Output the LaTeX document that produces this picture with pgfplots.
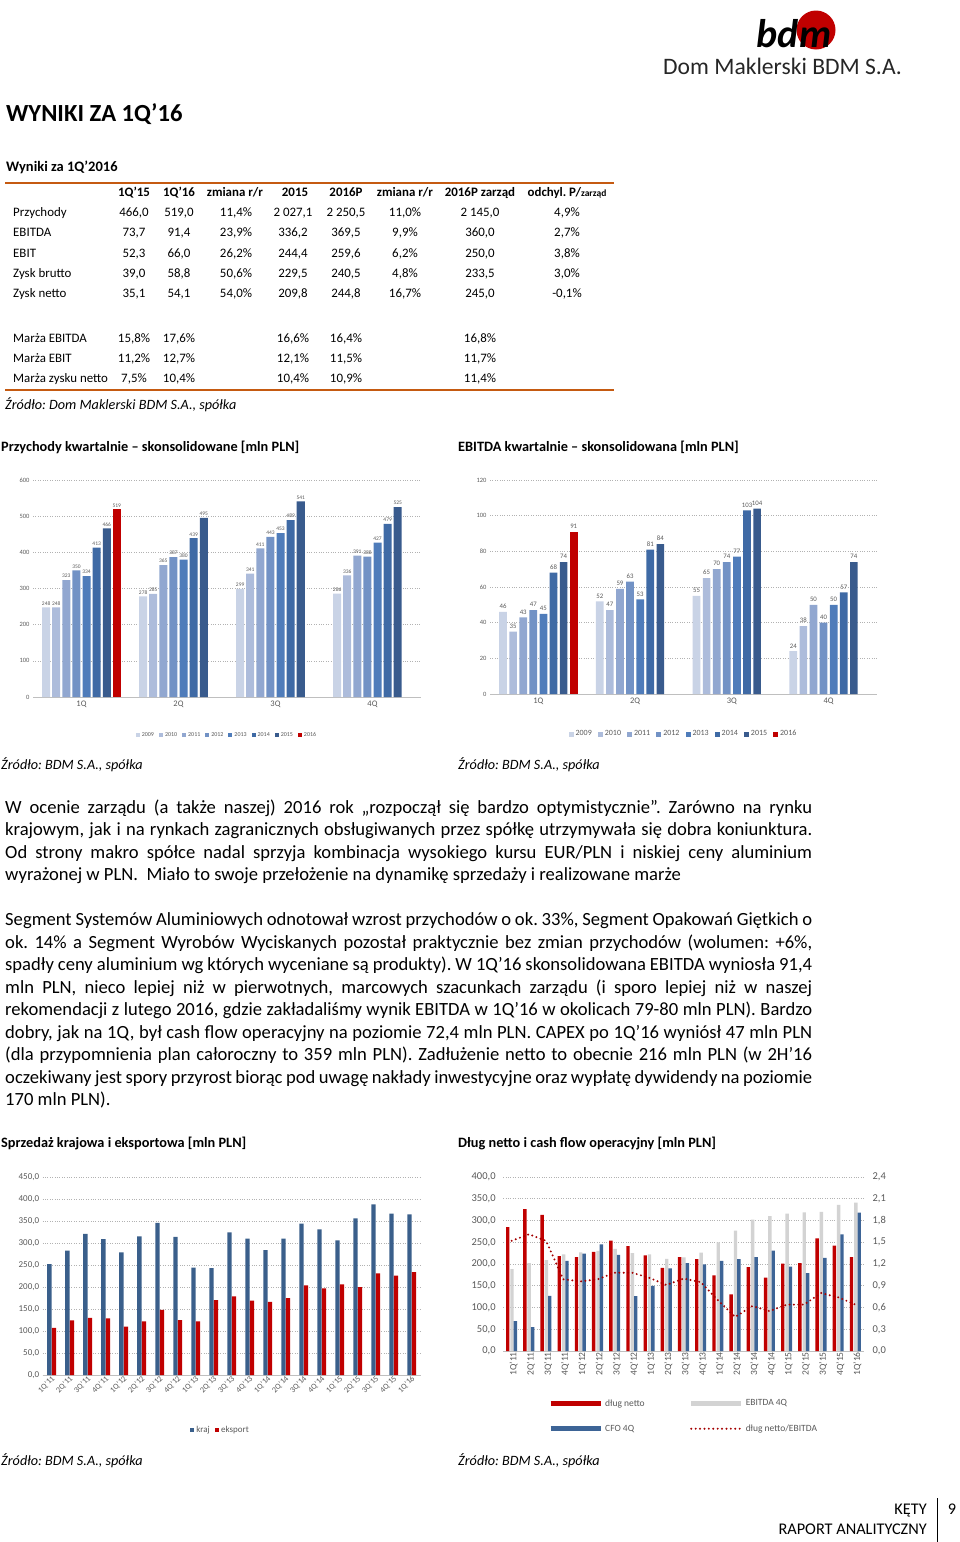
\documentclass[border=0pt]{standalone}
\usepackage{fontspec}
\setmainfont{Carlito}
\usepackage{pgfplots}
\usepackage{pgfplotstable}
\pgfplotsset{compat=1.18}
\pgfkeys{/pgf/number format/assume math mode=true}
\frenchspacing

\definecolor{cA}{HTML}{C9D3E6}
\definecolor{cB}{HTML}{ADBCDB}
\definecolor{cC}{HTML}{91A7D0}
\definecolor{cD}{HTML}{7292C5}
\definecolor{cE}{HTML}{4F7CBA}
\definecolor{cF}{HTML}{3F6AA5}
\definecolor{cG}{HTML}{395B8D}
\definecolor{bred}{HTML}{C00000}
\definecolor{kblue}{HTML}{3A5F8B}
\definecolor{cfob}{HTML}{3D6496}
\definecolor{ebg}{HTML}{D3D3D3}
\definecolor{tgray}{HTML}{595959}
\definecolor{orng}{HTML}{C55A11}

\newcommand\fs[1]{\fontsize{#1}{#1}\selectfont}

\pgfplotsset{
 bdm/.style={scale only axis, anchor=south west,
   axis x line*=bottom, axis y line*=left, axis line style={-},
   y axis line style={draw=none},
   x axis line style={draw=black!25, line width=0.8pt},
   major tick length=0pt, ymajorgrids,
   major grid style={draw=black!30, line width=0.6pt, dash pattern=on 0.8pt off 1.6pt},
   tick label style={text=tgray}, clip=false,
   legend style={draw=none, fill=none, text=tgray}},
}

\pgfplotstableread{
x kraj eksport
0 252 107
1 283 124
2 321 130
3 309 129
4 279 110
5 315 122
6 346 148
7 314 125
8 244 122
9 243 170
10 324 179
11 310 169
12 284 166
13 310 175
14 344 204
15 331 197
16 306 206
17 356 200
18 388 231
19 367 226
20 365 234
}\sales

\pgfplotstableread{
x dn eb cfo r
0 285 188 69 1.52
1 326 202 55 1.61
2 313 209 127 1.52
3 218 222 207 0.99
4 216 227 224 0.96
5 228 230 245 0.99
6 254 235 221 1.08
7 241 225 126 1.08
8 220 222 150 1.01
9 191 212 190 0.91
10 216 215 202 1.00
11 211 226 199 0.95
12 174 250 207 0.70
13 130 277 211 0.47
14 193 302 216 0.62
15 169 310 231 0.55
16 201 316 194 0.64
17 202 319 179 0.64
18 259 320 214 0.80
19 242 336 268 0.74
20 216 341 318 0.64
}\debt

\begin{document}
\begin{tikzpicture}
\useasboundingbox (0pt,0pt) rectangle (960pt,-1542pt);

% logo
\fill[bred] (816pt,-30pt) circle (19.5pt);
\node[anchor=base east, inner sep=0pt, font=\fs{40}\bfseries\itshape] at (799pt,-47pt) {bd};
\node[anchor=base, inner sep=0pt, font=\fs{40}\bfseries\itshape] at (816pt,-47pt) {m};
\node[anchor=mid west, inner sep=0pt, font=\fs{23.6}, text=black!85] at (663pt,-72pt) {Dom Maklerski BDM S.A.};

% titles
\node[anchor=mid west, inner sep=0pt, font=\fs{24.6}\bfseries] at (6pt,-119pt) {WYNIKI ZA 1Q’16};
\node[anchor=mid west, inner sep=0pt, font=\fs{14.5}\bfseries] at (6pt,-169pt) {Wyniki za 1Q’2016};

% table
\draw[orng, line width=2pt] (5pt,-183pt) -- (614pt,-183pt);
\draw[orng, line width=2pt] (5pt,-390pt) -- (614pt,-390pt);
\begin{scope}[every node/.style={inner sep=0pt, font=\fs{12.9}}]
\node[anchor=mid, font=\fs{12.9}\bfseries] at (134pt,-194pt) {1Q'15};
\node[anchor=mid, font=\fs{12.9}\bfseries] at (179pt,-194pt) {1Q'16};
\node[anchor=mid, font=\fs{12.9}\bfseries] at (235pt,-194pt) {zmiana r/r};
\node[anchor=mid, font=\fs{12.9}\bfseries] at (295pt,-194pt) {2015};
\node[anchor=mid, font=\fs{12.9}\bfseries] at (346pt,-194pt) {2016P};
\node[anchor=mid, font=\fs{12.9}\bfseries] at (405pt,-194pt) {zmiana r/r};
\node[anchor=mid, font=\fs{12.9}\bfseries] at (480pt,-194pt) {2016P zarząd};
\node[anchor=mid, font=\fs{12.9}\bfseries] at (567pt,-194pt) {odchyl. P/{\fs{9.5}zarząd}};
\foreach \y/\lab/\a/\b/\c/\d/\e/\f/\g/\h in {
 214/Przychody/{466,0}/{519,0}/{11,4\%}/{2 027,1}/{2 250,5}/{11,0\%}/{2 145,0}/{4,9\%},
 234/EBITDA/{73,7}/{91,4}/{23,9\%}/{336,2}/{369,5}/{9,9\%}/{360,0}/{2,7\%},
 255/EBIT/{52,3}/{66,0}/{26,2\%}/{244,4}/{259,6}/{6,2\%}/{250,0}/{3,8\%},
 275/Zysk brutto/{39,0}/{58,8}/{50,6\%}/{229,5}/{240,5}/{4,8\%}/{233,5}/{3,0\%},
 295/Zysk netto/{35,1}/{54,1}/{54,0\%}/{209,8}/{244,8}/{16,7\%}/{245,0}/{-0,1\%},
 340/Marża EBITDA/{15,8\%}/{17,6\%}/{}/{16,6\%}/{16,4\%}/{}/{16,8\%}/{},
 360/Marża EBIT/{11,2\%}/{12,7\%}/{}/{12,1\%}/{11,5\%}/{}/{11,7\%}/{},
 380/Marża zysku netto/{7,5\%}/{10,4\%}/{}/{10,4\%}/{10,9\%}/{}/{11,4\%}/{}}{
 \node[anchor=mid west] at (13pt,-\y*1pt) {\lab};
 \node[anchor=mid] at (134pt,-\y*1pt) {\a};
 \node[anchor=mid] at (179pt,-\y*1pt) {\b};
 \node[anchor=mid] at (236pt,-\y*1pt) {\c};
 \node[anchor=mid] at (293pt,-\y*1pt) {\d};
 \node[anchor=mid] at (346pt,-\y*1pt) {\e};
 \node[anchor=mid] at (405pt,-\y*1pt) {\f};
 \node[anchor=mid] at (480pt,-\y*1pt) {\g};
 \node[anchor=mid] at (567pt,-\y*1pt) {\h};
}
\end{scope}
\node[anchor=mid west, inner sep=0pt, font=\fs{14.2}\itshape] at (5pt,-407pt) {Źródło: Dom Maklerski BDM S.A., spółka};

% chart titles
\node[anchor=mid west, inner sep=0pt, font=\fs{14.3}\bfseries] at (1pt,-449pt) {Przychody kwartalnie – skonsolidowane [mln PLN]};
\node[anchor=mid west, inner sep=0pt, font=\fs{14.3}\bfseries] at (458pt,-449pt) {EBITDA kwartalnie – skonsolidowana [mln PLN]};

% Chart 1
\begin{axis}[bdm, ybar=0pt, at={(33pt,-697pt)}, width=388pt, height=217pt,
  xmin=-0.5, xmax=3.5, ymin=0, ymax=600, ytick={0,100,...,600},
  xtick={0,1,2,3}, xticklabels={1Q,2Q,3Q,4Q},
  yticklabel style={font=\fs{6.5}}, xticklabel style={font=\fs{8.5}},
  bar width=8pt, every axis plot/.append style={draw=none},
  nodes near coords, every node near coord/.append style={font=\fs{5.5}, text=tgray, inner sep=2pt},
  legend style={at={(0.5,-0.175)}, anchor=center, font=\fs{6},
    /tikz/every even column/.append style={column sep=3pt}},
  legend columns=-1,
  legend image code/.code={\fill[#1] (0pt,-2pt) rectangle (4pt,2pt);}]
\addplot[fill=cA, bar shift=-35.35pt] coordinates {(0,248) (1,278) (2,299) (3,286)};
\addplot[fill=cB, bar shift=-25.25pt] coordinates {(0,248) (1,285) (2,341) (3,336)};
\addplot[fill=cC, bar shift=-15.15pt] coordinates {(0,323) (1,365) (2,411) (3,391)};
\addplot[fill=cD, bar shift=-5.05pt] coordinates {(0,350) (1,387) (2,443) (3,388)};
\addplot[fill=cE, bar shift=5.05pt] coordinates {(0,334) (1,380) (2,453) (3,427)};
\addplot[fill=cF, bar shift=15.15pt] coordinates {(0,413) (1,439) (2,489) (3,479)};
\addplot[fill=cG, bar shift=25.25pt] coordinates {(0,466) (1,495) (2,541) (3,525)};
\addplot[fill=bred, bar shift=35.35pt] coordinates {(0,519)};
\legend{2009,2010,2011,2012,2013,2014,2015,2016}
\end{axis}

% Chart 2
\begin{axis}[bdm, ybar=0pt, at={(490pt,-694pt)}, width=387pt, height=214pt,
  xmin=-0.5, xmax=3.5, ymin=0, ymax=120, ytick={0,20,...,120},
  xtick={0,1,2,3}, xticklabels={1Q,2Q,3Q,4Q},
  yticklabel style={font=\fs{6.5}}, xticklabel style={font=\fs{8.5}},
  bar width=7.7pt, every axis plot/.append style={draw=none},
  nodes near coords, every node near coord/.append style={font=\fs{6.8}, text=tgray, inner sep=3pt},
  legend style={at={(0.5,-0.187)}, anchor=center, font=\fs{8},
    /tikz/every even column/.append style={column sep=4pt}},
  legend columns=-1,
  legend image code/.code={\fill[#1] (0pt,-2.5pt) rectangle (5pt,2.5pt);}]
\addplot[fill=cA, bar shift=-35.35pt] coordinates {(0,46) (1,52) (2,55) (3,24)};
\addplot[fill=cB, bar shift=-25.25pt] coordinates {(0,35) (1,47) (2,65) (3,38)};
\addplot[fill=cC, bar shift=-15.15pt] coordinates {(0,43) (1,59) (2,70) (3,50)};
\addplot[fill=cD, bar shift=-5.05pt] coordinates {(0,47) (1,63) (2,74) (3,40)};
\addplot[fill=cE, bar shift=5.05pt] coordinates {(0,45) (1,53) (2,77) (3,50)};
\addplot[fill=cF, bar shift=15.15pt] coordinates {(0,68) (1,81) (2,103) (3,57)};
\addplot[fill=cG, bar shift=25.25pt] coordinates {(0,74) (1,84) (2,104) (3,74)};
\addplot[fill=bred, bar shift=35.35pt] coordinates {(0,91)};
\legend{2009,2010,2011,2012,2013,2014,2015,2016}
\end{axis}

\node[anchor=mid west, inner sep=0pt, font=\fs{14.2}\itshape] at (1pt,-767pt) {Źródło: BDM S.A., spółka};
\node[anchor=mid west, inner sep=0pt, font=\fs{14.2}\itshape] at (458pt,-767pt) {Źródło: BDM S.A., spółka};

% paragraphs
\begin{scope}[every node/.style={anchor=mid west, inner sep=0pt, font=\fs{18.6}}]
\node at (5pt,-811pt) {\makebox[807pt][s]{W ocenie zarządu (a także naszej) 2016 rok „rozpoczął się bardzo optymistycznie”. Zarówno na rynku}};
\node at (5pt,-833pt) {\makebox[807pt][s]{krajowym, jak i na rynkach zagranicznych obsługiwanych przez spółkę utrzymywała się dobra koniunktura.}};
\node at (5pt,-856pt) {\makebox[807pt][s]{Od strony makro spółce nadal sprzyja kombinacja wysokiego kursu EUR/PLN i niskiej ceny aluminium}};
\node at (5pt,-878pt) {wyrażonej w PLN.\ \ Miało to swoje przełożenie na dynamikę sprzedaży i realizowane marże};
\node at (5pt,-923pt) {\makebox[807pt][s]{Segment Systemów Aluminiowych odnotował wzrost przychodów o ok. 33\%, Segment Opakowań Giętkich o}};
\node at (5pt,-946pt) {\makebox[807pt][s]{ok. 14\% a Segment Wyrobów Wyciskanych pozostał praktycznie bez zmian przychodów (wolumen: +6\%,}};
\node at (5pt,-968pt) {\makebox[807pt][s]{spadły ceny aluminium wg których wyceniane są produkty). W 1Q’16 skonsolidowana EBITDA wyniosła 91,4}};
\node at (5pt,-991pt) {\makebox[807pt][s]{mln PLN, nieco lepiej niż w pierwotnych, marcowych szacunkach zarządu (i sporo lepiej niż w naszej}};
\node at (5pt,-1013pt) {\makebox[807pt][s]{rekomendacji z lutego 2016, gdzie zakładaliśmy wynik EBITDA w 1Q’16 w okolicach 79-80 mln PLN). Bardzo}};
\node at (5pt,-1036pt) {\makebox[807pt][s]{dobry, jak na 1Q, był cash flow operacyjny na poziomie 72,4 mln PLN. CAPEX po 1Q’16 wyniósł 47 mln PLN}};
\node at (5pt,-1058pt) {\makebox[807pt][s]{(dla przypomnienia plan całoroczny to 359 mln PLN). Zadłużenie netto to obecnie 216 mln PLN (w 2H’16}};
\node at (5pt,-1081pt) {\makebox[807pt][s]{oczekiwany jest spory przyrost biorąc pod uwagę nakłady inwestycyjne oraz wypłatę dywidendy na poziomie}};
\node at (5pt,-1103pt) {170 mln PLN).};
\end{scope}

\node[anchor=mid west, inner sep=0pt, font=\fs{14.3}\bfseries] at (1pt,-1145pt) {Sprzedaż krajowa i eksportowa [mln PLN]};
\node[anchor=mid west, inner sep=0pt, font=\fs{14.3}\bfseries] at (458pt,-1145pt) {Dług netto i cash flow operacyjny [mln PLN]};

% Chart 3
\begin{axis}[bdm, ybar=0pt, at={(42.7pt,-1375pt)}, width=378pt, height=198pt,
  xmin=-0.5, xmax=20.5, ymin=0, ymax=450, ytick={0,50,...,450},
  yticklabel style={font=\fs{9}, /pgf/number format/.cd, fixed, fixed zerofill, precision=1, use comma, 1000 sep={}},
  xtick={0,...,20},
  xticklabels={1Q'11,2Q'11,3Q'11,4Q'11,1Q'12,2Q'12,3Q'12,4Q'12,1Q'13,2Q'13,3Q'13,4Q'13,1Q'14,2Q'14,3Q'14,4Q'14,1Q'15,2Q'15,3Q'15,4Q'15,1Q'16},
  xticklabel style={font=\fs{8}, rotate=45, anchor=east, inner sep=0.5pt, yshift=-3pt},
  bar width=4.3pt, every axis plot/.append style={draw=none},
  legend style={at={(0.47,-0.278)}, anchor=center, font=\fs{9},
    /tikz/every even column/.append style={column sep=3pt}},
  legend columns=-1,
  legend image code/.code={\fill[#1] (0pt,-2.2pt) rectangle (4.4pt,2.2pt);}]
\addplot[fill=kblue, bar shift=-2.3pt] table[x=x, y=kraj] {\sales};
\addplot[fill=bred, bar shift=2.3pt] table[x=x, y=eksport] {\sales};
\legend{kraj,eksport}
\end{axis}

% Chart 4
\begin{axis}[bdm, ybar=0pt, at={(503.1pt,-1351pt)}, width=361pt, height=174pt,
  xmin=-0.5, xmax=20.5, ymin=0, ymax=400, ytick={0,50,...,400},
  yticklabel style={font=\fs{10.5}, xshift=-4pt, /pgf/number format/.cd, fixed, fixed zerofill, precision=1, use comma, 1000 sep={}},
  xtick={0,...,20},
  xticklabels={1Q'11,2Q'11,3Q'11,4Q'11,1Q'12,2Q'12,3Q'12,4Q'12,1Q'13,2Q'13,3Q'13,4Q'13,1Q'14,2Q'14,3Q'14,4Q'14,1Q'15,2Q'15,3Q'15,4Q'15,1Q'16},
  xticklabel style={font=\fs{9.5}, rotate=90, anchor=east, inner sep=1pt, yshift=-2pt},
  bar width=3.4pt, every axis plot/.append style={draw=none}]
\addplot[fill=bred, bar shift=-4pt] table[x=x, y=dn] {\debt};
\addplot[fill=ebg, bar shift=0.3pt] table[x=x, y=eb] {\debt};
\addplot[fill=cfob, bar shift=3.7pt] table[x=x, y=cfo] {\debt};
\end{axis}
\begin{axis}[scale only axis, anchor=south west, at={(503.1pt,-1351pt)}, width=361pt, height=174pt,
  xmin=-0.5, xmax=20.5, ymin=0, ymax=2.4, axis x line=none, axis y line*=right,
  y axis line style={draw=none}, major tick length=0pt,
  ytick={0,0.3,0.6,0.9,1.2,1.5,1.8,2.1,2.4},
  yticklabel style={font=\fs{10.5}, text=tgray, xshift=5pt, /pgf/number format/.cd, fixed, fixed zerofill, precision=1, use comma},
  clip=false,
  legend style={draw=none, fill=none, text=tgray, at={(0.5,-0.255)}, anchor=north, font=\fs{9.5},
    row sep=13pt, /tikz/every even column/.append style={column sep=42pt}},
  legend columns=2, legend cell align=left,
  legend image code/.code={\draw[#1] (0pt,0pt) -- (50pt,0pt);}]
\addlegendimage{line width=5pt, bred}
\addlegendentry{dług netto}
\addlegendimage{line width=5pt, ebg}
\addlegendentry{EBITDA 4Q}
\addlegendimage{line width=5pt, cfob}
\addlegendentry{CFO 4Q}
\addplot[bred!85!black, line width=2.2pt, line cap=round, dash pattern=on 0pt off 4.4pt, mark=none] table[x=x, y=r] {\debt};
\addlegendentry{dług netto/EBITDA}
\end{axis}

\node[anchor=mid west, inner sep=0pt, font=\fs{14.2}\itshape] at (1pt,-1463pt) {Źródło: BDM S.A., spółka};
\node[anchor=mid west, inner sep=0pt, font=\fs{14.2}\itshape] at (458pt,-1463pt) {Źródło: BDM S.A., spółka};

% footer
\node[anchor=mid east, inner sep=0pt, font=\fs{16.3}] at (927pt,-1512pt) {KĘTY};
\node[anchor=mid east, inner sep=0pt, font=\fs{16.3}] at (927pt,-1532pt) {RAPORT ANALITYCZNY};
\draw[black, line width=0.8pt] (937pt,-1498pt) -- (937pt,-1542pt);
\node[anchor=mid, inner sep=0pt, font=\fs{16.3}] at (952pt,-1512pt) {9};
\end{tikzpicture}
\end{document}
